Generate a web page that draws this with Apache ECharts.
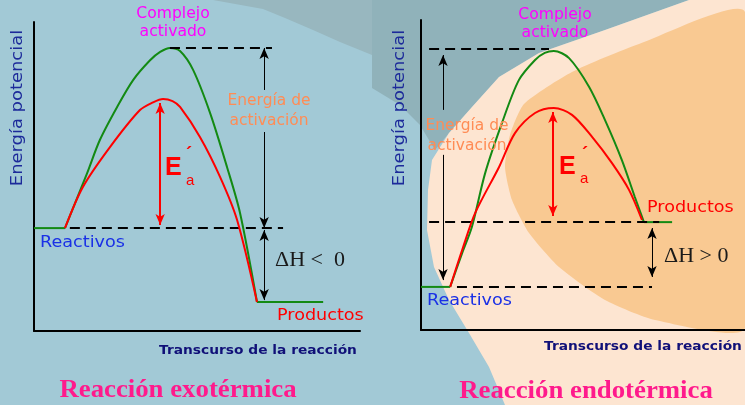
<!DOCTYPE html>
<html><head><meta charset="utf-8">
<script src="https://cdn.jsdelivr.net/npm/echarts@6/dist/echarts.min.js"></script>
<style>html,body{margin:0;padding:0;background:#a2c9d6}#c{width:745px;height:405px}</style>
</head><body><div id="c"></div>
<script>
// ---- Exothermic panel (x: reaction progress 0-100, y: potential energy 0-100)
const exoGreen = [[9.5,33.3],[16.3,51.1],[20.2,61.8],[25.5,72.5],[30.4,81.2],[35.6,87.6],[38.7,90.3],[41.7,91.6],[44.8,90.6],[48.8,84.5],[54.0,70.6],[59.2,53.1],[63.2,38.2],[68.4,9.4]];
const exoRed = [[9.5,33.3],[15.0,46.6],[23.3,59.5],[32.5,71.5],[36.5,74.0],[39.6,75.1],[42.5,74.4],[44.8,72.5],[50.9,62.8],[57.1,49.8],[62.3,35.9],[68.4,9.4]];
const exoReactFlat = [[0,33.3],[9.5,33.3]];
const exoProdFlat = [[68.4,9.4],[88.7,9.4]];
const exoLevels = {peak:91.6, reactants:33.3, products:9.4};
const exoDashTop = [41.7, 73.0];
const exoDashMid = [11.0, 76.4];
const exoArrowX = 70.6, exoArrowGap = [78.0, 64.4], exoDH = [32.7, 10.0];
const exoRedArrow = [38.7, 73.8, 34.3];

// ---- Endothermic panel
const endoGreen = [[9.0,13.9],[12.7,24.8],[15.7,33.2],[19.8,50.6],[25.0,66.8],[30.2,80.6],[35.2,87.1],[38.2,89.4],[41.0,90.0],[45.7,87.7],[51.9,78.4],[56.8,67.7],[62.0,54.8],[66.0,42.9],[68.8,34.8]];
const endoRed = [[9.0,13.9],[12.7,25.8],[16.7,37.7],[24.1,52.6],[29.0,63.5],[35.2,70.0],[41.0,71.6],[46.6,69.4],[52.8,62.3],[58.9,53.9],[64.2,45.2],[68.2,35.5]];
const endoReactFlat = [[0,13.9],[9.0,13.9]];
const endoProdFlat = [[68.8,34.8],[77.5,34.8]];
const endoLevels = {peak:90.6, reactants:13.9, products:34.8};
const endoDashTop = [2.5, 39.5];
const endoDashMid = [2.5, 73.5];
const endoDashBot = [11.1, 71.3];
const endoArrowX = 6.8, endoArrowTop = 88.7, endoArrowGap = [71.0, 56.5], endoArrowBot = 16.1;
const endoDHX = 71.3, endoDH = [32.9, 17.1];
const endoRedArrow = [40.7, 70.3, 36.8];

const GREEN = '#138a13', RED = '#ff0000';
const dashStyle = {color:'#000', width:2, type:[10,6]};
const arrowStyle = {color:'#000', width:1, type:'solid'};
const redArrowStyle = {color:RED, width:2, type:'solid'};

function seg(x1,y1,x2,y2,sym,style){
  return [{coord:[x1,y1], symbol:sym[0], lineStyle:style},{coord:[x2,y2], symbol:sym[1]}];
}
function axes(idx){
  const common = {min:0,max:100,axisTick:{show:false},axisLabel:{show:false},splitLine:{show:false},
    axisLine:{show:true,lineStyle:{color:'#000',width:2}}};
  return {x:Object.assign({type:'value',gridIndex:idx},common), y:Object.assign({type:'value',gridIndex:idx},common)};
}
const a0 = axes(0), a1 = axes(1);

function dashSeries(xi, segs){
  return {type:'line', xAxisIndex:xi, yAxisIndex:xi, data:[], silent:true, z:3,
    markLine:{silent:true, animation:false, label:{show:false}, symbol:['none','none'], symbolSize:[7,11],
      data:segs}};
}
function curve(xi, data, color, z, smooth){
  return {type:'line', xAxisIndex:xi, yAxisIndex:xi, data:data, smooth:smooth,
    showSymbol:false, lineStyle:{color:color,width:2}, z:z};
}

const txt = (x,y,text,font,fill,align,extra) => Object.assign({type:'text', x:x, y:y, z:100,
  style:{text:text, font:font, fill:fill, align:align||'center', verticalAlign:'middle'}}, extra||{});

const F = '"DejaVu Sans", sans-serif';
const lblFont = '16px ' + F, smallFont = '15px ' + F;
const ser = '"Liberation Serif", "Times New Roman", serif';
const AR = '"Liberation Sans", Arial, sans-serif';

const graphics = [
  // backgrounds
  {type:'rect', z:-10, shape:{x:0,y:0,width:745,height:405}, style:{fill:'#a2c9d6'}},
  {type:'polygon', z:-9, shape:{points:[[213,0],[372,0],[372,55],[340,42],[313,30],[285,18],[263,9]]}, style:{fill:'#98b7bf'}},
  {type:'polygon', z:-9, shape:{points:[[372,0],[689,0],[605,30],[539,53],[499,77],[472,107],[449,133],[435,150],[420,125],[400,105],[372,88]]}, style:{fill:'#90b2ba'}},
  {type:'polygon', z:-8, shape:{points:[[689,0],[745,0],[745,405],[505,405],[489,367],[469,333],[449,300],[434,267],[427,230],[428,190],[432,160],[449,133],[472,107],[499,77],[539,53],[605,30]]}, style:{fill:'#fde5d1'}},
  {type:'polygon', z:-7, shape:{points:[[745,12],[639,44],[572,72],[524,104],[510,135],[505,167],[512,200],[529,233],[559,267],[605,300],[655,320],[745,328]], smooth:0.2}, style:{fill:'#f9c992'}},

  // left texts
  txt(173,14,'Complejo',smallFont,'#ff00ff','center',{scaleX:1.04}),
  txt(173,32,'activado',smallFont,'#ff00ff','center',{scaleX:1.04}),
  txt(269,101,'Energía de',smallFont,'#ff8c55','center',{scaleX:1.03}),
  txt(269,121,'activación',smallFont,'#ff8c55','center',{scaleX:1.03}),
  txt(40,243,'Reactivos',lblFont,'#1a30e6','left',{scaleX:1.1}),
  txt(277,316,'Productos',lblFont,'#ff0000','left',{scaleX:1.1}),
  txt(275,261,'ΔH <  0','20px '+ser,'#1a1a1a','left',{scaleX:1.1}),
  txt(258,351,'Transcurso de la reacción','bold 13px '+F,'#101078','center',{scaleX:1.06}),
  txt(18,108,'Energía potencial',lblFont,'#1c2a9a','center',{rotation:Math.PI/2, scaleX:1.12}),
  txt(178,390,'Reacción exotérmica','bold 26px '+ser,'#ff1a8c','center',{scaleX:1.03}),
  txt(165,168,'E','bold 25px '+AR,'#ff0000','left'),
  txt(186,181,'a','15px '+AR,'#ff0000','left'),
  txt(186,155,'´','bold 18px '+AR,'#ff0000','left'),

  // right texts
  txt(555,15,'Complejo',smallFont,'#ff00ff','center',{scaleX:1.04}),
  txt(555,33,'activado',smallFont,'#ff00ff','center',{scaleX:1.04}),
  txt(467,126,'Energía de',smallFont,'#ff8c55','center',{scaleX:1.03}),
  txt(467,146,'activación',smallFont,'#ff8c55','center',{scaleX:1.03}),
  txt(427,301,'Reactivos',lblFont,'#1a30e6','left',{scaleX:1.1}),
  txt(647,208,'Productos',lblFont,'#ff0000','left',{scaleX:1.1}),
  txt(664,257,'ΔH > 0','20px '+ser,'#1a1a1a','left',{scaleX:1.1}),
  txt(643,347,'Transcurso de la reacción','bold 13px '+F,'#101078','center',{scaleX:1.06}),
  txt(400,108,'Energía potencial',lblFont,'#1c2a9a','center',{rotation:Math.PI/2, scaleX:1.12}),
  txt(586,391,'Reacción endotérmica','bold 26px '+ser,'#ff1a8c','center',{scaleX:1.03}),
  txt(559,167,'E','bold 25px '+AR,'#ff0000','left'),
  txt(580,179,'a','15px '+AR,'#ff0000','left'),
  txt(582,155,'´','bold 18px '+AR,'#ff0000','left')
];

const option = {
  backgroundColor:'transparent',
  animation:false,
  grid:[{left:34, top:22, width:326, height:309},{left:421, top:20, width:324, height:310}],
  xAxis:[a0.x, a1.x],
  yAxis:[a0.y, a1.y],
  graphic:{elements:graphics},
  series:[
    curve(0, exoReactFlat, GREEN, 4, false),
    curve(0, exoProdFlat, GREEN, 4, false),
    curve(0, exoGreen, GREEN, 4, 0.3),
    curve(0, exoRed, RED, 5, 0.3),
    dashSeries(0, [
      seg(exoDashTop[0],exoLevels.peak,exoDashTop[1],exoLevels.peak,['none','none'],dashStyle),
      seg(exoDashMid[0],exoLevels.reactants,exoDashMid[1],exoLevels.reactants,['none','none'],dashStyle),
      seg(exoArrowX,exoArrowGap[0],exoArrowX,exoLevels.peak,['none','arrow'],arrowStyle),
      seg(exoArrowX,exoArrowGap[1],exoArrowX,exoLevels.reactants,['none','arrow'],arrowStyle),
      seg(exoArrowX,exoDH[0],exoArrowX,exoDH[1],['arrow','arrow'],arrowStyle),
      seg(exoRedArrow[0],exoRedArrow[1],exoRedArrow[0],exoRedArrow[2],['arrow','arrow'],redArrowStyle)
    ]),
    curve(1, endoReactFlat, GREEN, 4, false),
    curve(1, endoProdFlat, GREEN, 4, false),
    curve(1, endoGreen, GREEN, 4, 0.3),
    curve(1, endoRed, RED, 5, 0.3),
    dashSeries(1, [
      seg(endoDashTop[0],endoLevels.peak,endoDashTop[1],endoLevels.peak,['none','none'],dashStyle),
      seg(endoDashMid[0],endoLevels.products,endoDashMid[1],endoLevels.products,['none','none'],dashStyle),
      seg(endoDashBot[0],endoLevels.reactants,endoDashBot[1],endoLevels.reactants,['none','none'],dashStyle),
      seg(endoArrowX,endoArrowGap[0],endoArrowX,endoArrowTop,['none','arrow'],arrowStyle),
      seg(endoArrowX,endoArrowGap[1],endoArrowX,endoArrowBot,['none','arrow'],arrowStyle),
      seg(endoDHX,endoDH[0],endoDHX,endoDH[1],['arrow','arrow'],arrowStyle),
      seg(endoRedArrow[0],endoRedArrow[1],endoRedArrow[0],endoRedArrow[2],['arrow','arrow'],redArrowStyle)
    ])
  ]
};
const chart = echarts.init(document.getElementById('c'), null, {renderer:'canvas'});
chart.setOption(option);
</script></body></html>
